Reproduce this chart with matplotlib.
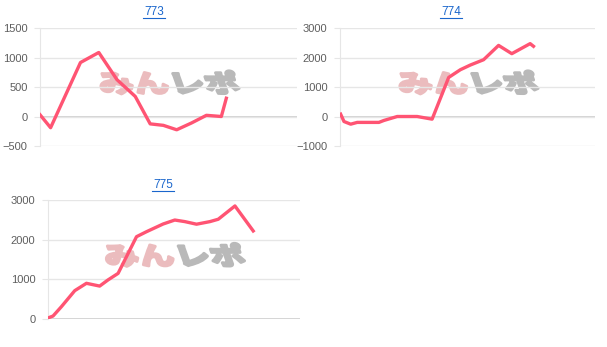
import matplotlib
matplotlib.use("Agg")
import matplotlib.pyplot as plt
from matplotlib.textpath import TextPath
from matplotlib.font_manager import FontProperties
from matplotlib.patches import PathPatch
from matplotlib.transforms import Affine2D

# x: games played (axis runs to 8000), y: coin difference
titles = ["773", "774", "775"]

x773 = [0, 330, 1260, 1830, 2395, 2965, 3430, 3840, 4255, 4715, 5180, 5645, 5800]
y773 = [30, -190, 915, 1085, 625, 340, -125, -150, -225, -110, 20, 0, 310]

x774 = [20, 125, 335, 540, 1220, 1375, 1795, 2420, 2890, 3410, 3775, 4090, 4505, 4975, 5390, 5965, 6070]
y774 = [80, -170, -260, -200, -200, -135, 0, 0, -90, 1325, 1585, 1745, 1925, 2410, 2130, 2470, 2380]

x775 = [30, 160, 425, 850, 1220, 1640, 1905, 2225, 2810, 3125, 3655, 4025, 4345, 4715, 5140, 5405, 5935, 6515]
y775 = [35, 75, 310, 715, 900, 830, 985, 1150, 2075, 2200, 2395, 2495, 2455, 2390, 2455, 2515, 2850, 2220]

yticks = [
    [-500, 0, 500, 1000, 1500],
    [-1000, 0, 1000, 2000, 3000],
    [0, 1000, 2000, 3000],
]

W, H = 607, 347
fig = plt.figure(figsize=(W / 100, H / 100), dpi=100)

# axes boxes in pixels: left, right, top, bottom
boxes = [(40, 297, 28, 146), (340, 595, 28, 146), (48, 300, 200, 319)]
title_pos = [(154, 12), (451, 12), (163, 185)]
series = [(x773, y773), (x774, y774), (x775, y775)]

line_col = "#ff5473"
grid_col = "#e6e6e6"


def watermark(ax, box):
    l, r, t, b = box
    axw, axh = r - l, b - t
    fp = FontProperties(family="Noto Sans CJK JP", weight="bold")
    p1 = TextPath((0, 0), "みん", size=10, prop=fp)
    p2 = TextPath((0, 0), "レポ", size=10, prop=fp)
    w1 = p1.get_extents().x1
    tw, th = 140.0, 22.0
    ext_all = 2 * w1 + 0.8
    for path, dx, col in [(p1, 0, "#ebbcbe"), (p2, w1 + 0.8, "#b9b9b9")]:
        tr = (Affine2D().translate(dx, 0).skew_deg(-14, 0)
              .scale(tw / ext_all, th / 9.0)
              .translate(-tw / 2, -th / 2)
              .scale(1 / axw, 1 / axh)
              .translate(0.51, 0.55))
        ax.add_patch(PathPatch(path, transform=tr + ax.transAxes, fc=col,
                               ec=col, lw=2.2, joinstyle="round", zorder=1))


for i, (box, (xs, ys)) in enumerate(zip(boxes, series)):
    l, r, t, b = box
    ax = fig.add_axes([l / W, (H - b) / H, (r - l) / W, (b - t) / H])
    ax.set_xlim(0, 8000)
    ax.set_ylim(yticks[i][0], yticks[i][-1])
    ax.set_yticks(yticks[i])
    ax.set_xticks([])
    ax.grid(axis="y", color=grid_col, lw=1)
    ax.axhline(0, color="#cfcfcf", lw=1.3, zorder=1.5)
    for s in ["top", "right", "bottom"]:
        ax.spines[s].set_visible(False)
    ax.spines["left"].set_color(grid_col)
    ax.tick_params(axis="y", length=4, color=grid_col, pad=5,
                   labelsize=8, labelcolor="#5e5e5e")
    for lab in ax.get_yticklabels():
        lab.set_fontfamily("Liberation Sans")
    watermark(ax, box)
    ax.plot(xs, ys, color=line_col, lw=2.4, zorder=3, solid_joinstyle="round")

    tx, ty = title_pos[i]
    fig.text(tx / W, 1 - ty / H, titles[i], ha="center", va="center",
             fontsize=8.5, color="#1a66cc", family="Liberation Sans")
    fig.add_artist(plt.Line2D([(tx - 11) / W, (tx + 11) / W],
                              [1 - (ty + 6) / H] * 2, color="#1a66cc", lw=0.8))

fig.savefig("out.png", dpi=100)
